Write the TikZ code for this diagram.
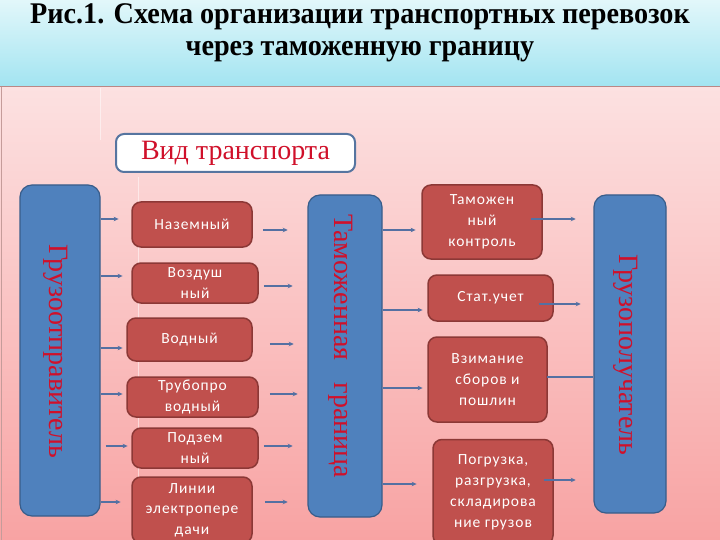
\documentclass[tikz,border=0pt]{standalone}
\usepackage{fontspec}
\usepackage{graphicx}
\setmainfont{Liberation Serif}
\newfontfamily\boxfont[LetterSpace=6]{Carlito}
\usetikzlibrary{arrows.meta}
\definecolor{hdtop}{HTML}{E2F7FA}
\definecolor{hdbot}{HTML}{A2E4F1}
\definecolor{pktop}{HTML}{FCE1E1}
\definecolor{pkbot}{HTML}{F8A3A3}
\definecolor{bluefill}{HTML}{4F81BD}
\definecolor{blueline}{HTML}{385D8A}
\definecolor{redfill}{HTML}{C0504D}
\definecolor{redline}{HTML}{8C3836}
\definecolor{redtxt}{HTML}{D0102A}
\definecolor{arrcol}{HTML}{5470A2}
\definecolor{vidline}{HTML}{5675A0}
\tikzset{
  bluebox/.style={draw=blueline, line width=1.2pt, fill=bluefill, rounded corners=12pt, inner sep=0pt},
  redbox/.style={draw=redline, line width=1.5pt, fill=redfill, rounded corners=9pt, inner sep=0pt,
     text=white, align=center, font=\boxfont\fontsize{15.5}{21}\selectfont},
  vertlbl/.style={rotate=-90, text=redtxt, font=\fontsize{28}{32}\selectfont, inner sep=0pt},
  arr/.style={draw=arrcol, line width=1.3pt, -{Stealth[length=5pt,width=4.5pt]}},
  titlefont/.style={font=\bfseries\fontsize{30}{36}\selectfont, inner sep=0pt, anchor=base}
}
\begin{document}
\begin{tikzpicture}[x=1pt,y=-1pt]
\useasboundingbox (0,0) rectangle (720,540);
% backgrounds
\shade[top color=hdtop, bottom color=hdbot] (0,0) rectangle (720,87);
\shade[top color=pktop, bottom color=pkbot] (0,87) rectangle (720,540);
\draw[draw=redline!60, line width=1pt] (0,87) -- (720,87);
\draw[draw=redline!50, line width=1pt] (1.5,87) -- (1.5,540);
\draw[white, opacity=0.5, line width=1pt] (100,88) -- (100,140);
\draw[white, opacity=0.5, line width=1pt] (138,177) -- (138,478);
% title
\node[titlefont] (title1) at (360,24) {\scalebox{0.94}[1]{Рис.1. Схема организации транспортных перевозок}};
\node[titlefont] (title2) at (360,56) {\scalebox{0.94}[1]{через таможенную границу}};
% vid transporta
\node[draw=vidline, line width=2pt, fill=white, rounded corners=8pt, minimum width=239pt, minimum height=38pt,
      text=redtxt, font=\fontsize{28}{32}\selectfont, inner sep=0pt] (vid) at (235.5,153) {Вид транспорта};
% blue boxes
\node[bluebox, minimum width=80pt, minimum height=331pt] (send) at (60,350.5) {};
\node[vertlbl] (sendlbl) at (56,351) {Грузоотправитель};
\node[bluebox, minimum width=74pt, minimum height=322pt] (border) at (345,356) {};
\node[vertlbl] (borderlbl) at (341,346) {Таможенная\hspace{22pt}граница};
\node[bluebox, minimum width=72pt, minimum height=318pt] (recv) at (630,354) {};
\node[vertlbl] (recvlbl) at (626,355) {Грузополучатель};
% left column
\node[redbox, minimum width=120pt, minimum height=45pt] (n1) at (192,224.5) {Наземный};
\node[redbox, minimum width=126pt, minimum height=40pt] (n2) at (195,283) {Воздуш\\ный};
\node[redbox, minimum width=125pt, minimum height=43pt] (n3) at (189.5,339.5) {Водный};
\node[redbox, minimum width=131pt, minimum height=40pt] (n4) at (192.5,397) {Трубопро\\водный};
\node[redbox, minimum width=126pt, minimum height=40pt] (n5) at (195,448) {Подзем\\ный};
\node[redbox, minimum width=120pt, minimum height=66pt, font=\boxfont\fontsize{15.5}{20.5}\selectfont] (n6) at (192,510) {Линии\\электропере\\дачи};
% right column
\node[redbox, minimum width=120pt, minimum height=74pt] (m1) at (482,222) {Таможен\\ный\\контроль};
\node[redbox, minimum width=125pt, minimum height=46pt] (m2) at (490.5,298) {Стат.учет};
\node[redbox, minimum width=119pt, minimum height=85pt] (m3) at (487.5,379.5) {Взимание\\сборов и\\пошлин};
\node[redbox, minimum width=120pt, minimum height=105pt] (m4) at (493,492) {Погрузка,\\разгрузка,\\складирова\\ние грузов};
% arrows: sender -> transport
\draw[arr] (send.east |- 0,219) -- ++(18,0);
\draw[arr] (send.east |- 0,276) -- ++(22,0);
\draw[arr] (send.east |- 0,348) -- ++(22,0);
\draw[arr] (send.east |- 0,394) -- ++(22,0);
\draw[arr] ([xshift=5pt]send.east |- 0,446) -- ++(22,0);
\draw[arr] (send.east |- 0,502) -- ++(20,0);
% transport -> border
\draw[arr] ([xshift=10pt]n1.east |- 0,230) -- ++(25,0);
\draw[arr] ([xshift=5pt]n2.east |- 0,286) -- ++(29,0);
\draw[arr] ([xshift=17pt]n3.east |- 0,344) -- ++(24,0);
\draw[arr] ([xshift=11pt]n4.east |- 0,394) -- ++(28,0);
\draw[arr] ([xshift=5pt]n5.east |- 0,446) -- ++(29,0);
\draw[arr] ([xshift=12pt]n6.east |- 0,502) -- ++(23,0);
% border -> control
\draw[arr] (border.east |- 0,230) -- ++(33,0);
\draw[arr] (border.east |- 0,310) -- ++(40,0);
\draw[arr] (border.east |- 0,388) -- ++(40,0);
\draw[arr] (border.east |- 0,484) -- ++(34,0);
% control -> receiver
\draw[arr] ([xshift=-12pt]m1.east |- 0,219) -- ++(45,0);
\draw[arr] ([xshift=-15pt]m2.east |- 0,304) -- ++(42,0);
\draw[draw=arrcol, line width=1.3pt] ([xshift=-1pt]m3.east |- 0,377) -- (recv.west |- 0,377);
\draw[arr] ([xshift=-10pt]m4.east |- 0,480) -- ++(32,0);
\end{tikzpicture}
\end{document}
